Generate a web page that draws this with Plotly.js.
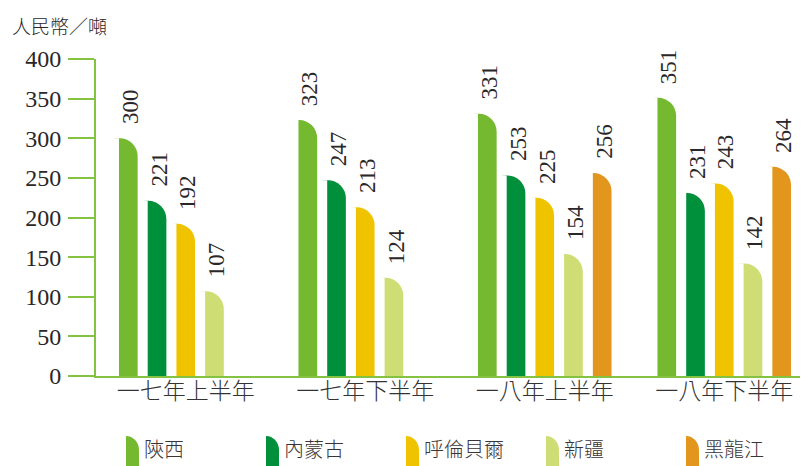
<!DOCTYPE html>
<html>
<head>
<meta charset="utf-8">
<script src="https://cdn.plot.ly/plotly-3.0.1.min.js"></script>
<style>html,body{margin:0;padding:0;background:#fff;}#chart{width:802px;height:466px;}</style>
</head>
<body>
<div id="chart"></div>
<script>
// ---- data ----
const categories = ['一七年上半年', '一七年下半年', '一八年上半年', '一八年下半年'];
const seriesNames = ['陝西', '內蒙古', '呼倫貝爾', '新疆', '黑龍江'];
const shaanxi = [300, 323, 331, 351];
const neimenggu = [221, 247, 253, 231];
const hulunbeier = [192, 213, 225, 243];
const xinjiang = [107, 124, 154, 142];
const heilongjiang = [null, null, 256, 264];
const yTicks = [0, 50, 100, 150, 200, 250, 300, 350, 400];
const yTitle = '人民幣／噸';

// ---- styles ----
const seriesValues = [shaanxi, neimenggu, hulunbeier, xinjiang, heilongjiang];
const colors = ['#74b92f', '#008f3a', '#f0c300', '#cede74', '#e2961e'];
const axisGreen = '#84c341';
const cjk = '"Noto Sans CJK TC", "Noto Sans CJK SC", sans-serif';
const serif = '"Liberation Serif", "Times New Roman", serif';
const textColor = '#2b2627';

const slot = 0.16;       // category units per series slot
const barW = 0.104;      // bar width in category units
const firstLeft = -0.4 + (slot - barW) / 2;

const traces = [];
const annotations = [];
// draw from last series to first so each white mask is covered by the next drawn bar
for (let i = seriesValues.length - 1; i >= 0; i--) {
  const left = firstLeft + i * slot;
  traces.push({
    type: 'bar', name: seriesNames[i], x: categories, y: seriesValues[i],
    width: 2 * barW, offset: left - barW,
    marker: {color: colors[i], cornerradius: '50%', line: {width: 0}},
    showlegend: false, hoverinfo: 'y+name'
  });
  traces.push({
    type: 'bar', name: seriesNames[i] + '_mask', x: categories, y: seriesValues[i],
    width: barW + 0.012, offset: left - barW - 0.012,
    marker: {color: '#ffffff', line: {width: 0}},
    showlegend: false, hoverinfo: 'skip'
  });
}
// value labels
seriesValues.forEach((vals, i) => {
  const center = firstLeft + i * slot + barW / 2;
  vals.forEach((v, j) => {
    if (v === null) return;
    annotations.push({
      x: j + center, y: v, xref: 'x', yref: 'y', text: String(v),
      textangle: -90, xanchor: 'center', yanchor: 'bottom', showarrow: false,
      yshift: 12, xshift: 2,
      font: {family: serif, size: 23, color: textColor}
    });
  });
});
// y title
annotations.push({
  xref: 'paper', yref: 'paper', x: -0.122, y: 1.105, xanchor: 'left', yanchor: 'middle',
  text: yTitle, showarrow: false, font: {family: cjk, size: 19, weight: 300, color: textColor}
});

// custom legend
const plotL = 96, plotR = 800, plotT = 59, plotB = 376;
const px = v => (v - plotL) / (plotR - plotL);
const py = v => (plotB - v) / (plotB - plotT);
const shapes = [];
seriesNames.forEach((name, i) => {
  const x0 = 126 + 140 * i, x1 = x0 + 13;
  const yTop = 436, yCurve = 450, yBot = 470;
  const k = 0.5523;
  const path = 'M' + px(x0) + ',' + py(yBot) +
    ' L' + px(x0) + ',' + py(yTop) +
    ' C' + px(x0 + 13 * k) + ',' + py(yTop) + ' ' + px(x1) + ',' + py(yCurve - 14 * k) + ' ' + px(x1) + ',' + py(yCurve) +
    ' L' + px(x1) + ',' + py(yBot) + ' Z';
  shapes.push({type: 'path', xref: 'paper', yref: 'paper', path: path,
    fillcolor: colors[i], line: {width: 0}});
  annotations.push({
    xref: 'paper', yref: 'paper', x: px(x1 + 3), y: py(448), xanchor: 'left', yanchor: 'middle',
    text: name, showarrow: false, font: {family: cjk, size: 20, weight: 300, color: '#3a3536'}
  });
});

const layout = {
  width: 802, height: 466,
  margin: {l: plotL, r: 802 - plotR, t: plotT, b: 466 - plotB},
  paper_bgcolor: '#ffffff', plot_bgcolor: '#ffffff',
  barmode: 'overlay',
  showlegend: false,
  xaxis: {
    type: 'category', range: [-0.5, -0.5 + (plotR - plotL) / 179.5],
    showline: true, linecolor: axisGreen, linewidth: 2,
    ticks: '', showgrid: false, zeroline: false, fixedrange: true,
    ticklabelstandoff: -7,
    tickfont: {family: cjk, size: 23, weight: 300, color: '#333'}
  },
  yaxis: {
    range: [0, 400], tickvals: yTicks, ticktext: yTicks.map(String),
    showline: true, linecolor: axisGreen, linewidth: 2,
    ticks: 'outside', ticklen: 26, tickwidth: 2, tickcolor: axisGreen,
    ticklabelstandoff: 2,
    showgrid: false, zeroline: false, fixedrange: true,
    tickfont: {family: serif, size: 24, color: textColor}
  },
  annotations: annotations,
  shapes: shapes
};

Plotly.newPlot('chart', traces, layout, {displayModeBar: false, staticPlot: true});
</script>
</body>
</html>
